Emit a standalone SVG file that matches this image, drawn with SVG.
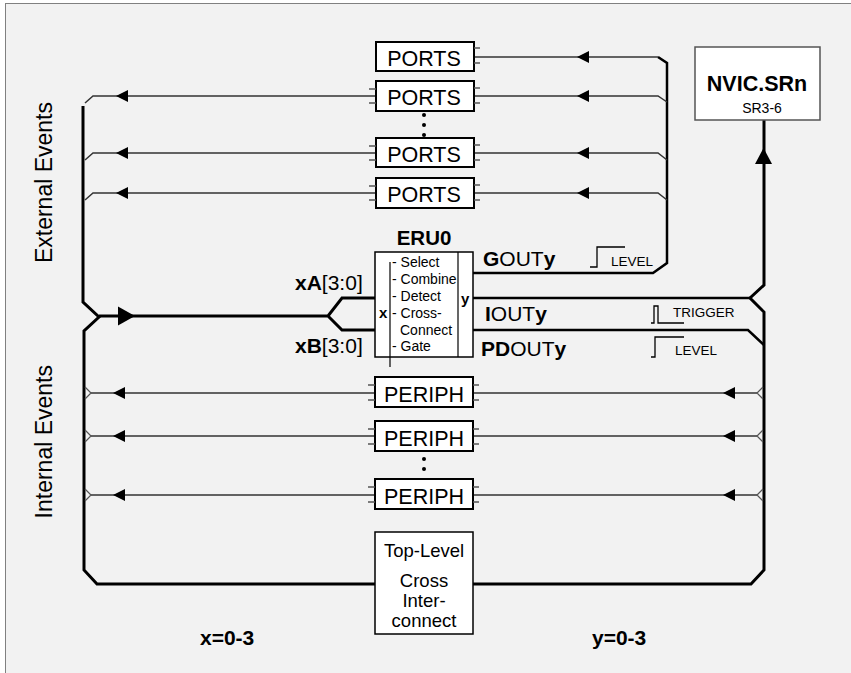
<svg xmlns="http://www.w3.org/2000/svg" width="851" height="673" viewBox="0 0 851 673">
<defs>
<style>
text{font-family:"Liberation Sans",Arial,sans-serif;fill:#000}
.thin{stroke:#333;stroke-width:1.5;fill:none}
.bus{stroke:#000;stroke-width:3;fill:none;stroke-linejoin:miter}
.med{stroke:#000;stroke-width:2.5;fill:none}
.box{fill:#fff;stroke:#000;stroke-width:2}
.tick{stroke:#555;stroke-width:1.3;fill:none}
.chev{stroke:#555;stroke-width:1.2;fill:none}
.sym{stroke:#000;stroke-width:1.3;fill:none}
.lbl{font-size:21.5px}
.b{font-weight:bold}
</style>
<path id="ah" d="M0,0 L12,-6 L12,6 Z" fill="#000"/>
</defs>
<rect x="0" y="0" width="851" height="673" fill="#fff"/>
<rect x="5.5" y="3.5" width="870" height="700" fill="#f2f2f2" stroke="#808080" stroke-width="1"/>

<g id="connectors">
  <path class="bus" d="M83,106 V302 L99,317 L84,331 V570 L97,584 H375"/>
  <path class="bus" d="M99,316 H328 L342,298 H375 M328,316 L342,330 H375"/>
  <polygon points="135,316 118,306.5 118,325.5" fill="#000"/>
  <path class="bus" d="M764,120 V285 L750,298 L764,312 V570 L751,584 H473"/>
  <polygon points="763.5,148 755,164 772,164" fill="#000"/>
  <path class="med" d="M473,273 H653 L667,263 V63 L658,57"/>
  <path class="med" d="M473,298 H750"/>
  <path class="med" d="M473,330 H748 L764,345"/>
  <path class="thin" d="M474,57 H658"/>
  <path class="thin" d="M474,96 H658 L667,102"/>
  <path class="thin" d="M474,153 H658 L667,160"/>
  <path class="thin" d="M474,193 H658 L667,200"/>
  <use href="#ah" x="577" y="57"/>
  <use href="#ah" x="577" y="96"/>
  <use href="#ah" x="577" y="153"/>
  <use href="#ah" x="577" y="193"/>
  <path class="thin" d="M376,96 H93 L85,103"/>
  <path class="thin" d="M376,153 H93 L85,160"/>
  <path class="thin" d="M376,193 H93 L85,200"/>
  <use href="#ah" x="116" y="96"/>
  <use href="#ah" x="116" y="153"/>
  <use href="#ah" x="116" y="193"/>
  <path class="thin" d="M91,393 H375 M473,393 H757"/>
  <path class="thin" d="M91,436 H375 M473,436 H757"/>
  <path class="thin" d="M91,495 H375 M473,495 H757"/>
  <path class="chev" d="M85,387 L91,393 L85,399 M85,430 L91,436 L85,442 M85,489 L91,495 L85,501"/>
  <path class="chev" d="M763,387 L757,393 L763,399 M763,430 L757,436 L763,442 M763,489 L757,495 L763,501"/>
  <use href="#ah" x="113" y="393"/>
  <use href="#ah" x="113" y="436"/>
  <use href="#ah" x="113" y="495"/>
  <use href="#ah" x="723" y="393"/>
  <use href="#ah" x="723" y="436"/>
  <use href="#ah" x="723" y="495"/>
</g>

<g id="ports1">
  <rect class="box" x="376" y="42" width="98" height="29"/>
  <path class="tick" d="M474,48 H480 M474,63 H480"/>
  <text class="lbl" x="424" y="66" text-anchor="middle">PORTS</text>
</g>
<g id="ports2">
  <rect class="box" x="376" y="81" width="98" height="30"/>
  <path class="tick" d="M369,89 H376 M369,103 H376 M474,88 H480 M474,103 H480"/>
  <text class="lbl" x="424" y="105" text-anchor="middle">PORTS</text>
</g>
<g id="ports-dots" fill="#000">
  <circle cx="424" cy="115" r="2"/><circle cx="424" cy="125" r="2"/><circle cx="424" cy="135" r="2"/>
</g>
<g id="ports3">
  <rect class="box" x="376" y="138" width="98" height="29"/>
  <path class="tick" d="M369,146 H376 M369,160 H376 M474,145 H480 M474,160 H480"/>
  <text class="lbl" x="424" y="162" text-anchor="middle">PORTS</text>
</g>
<g id="ports4">
  <rect class="box" x="376" y="178" width="98" height="30"/>
  <path class="tick" d="M369,186 H376 M369,200 H376 M474,185 H480 M474,200 H480"/>
  <text class="lbl" x="424" y="202" text-anchor="middle">PORTS</text>
</g>

<g id="nvic">
  <rect x="695" y="47" width="125" height="73" fill="#fff" stroke="#555" stroke-width="1.5"/>
  <text x="757" y="91" text-anchor="middle" font-size="21.5" class="b">NVIC.SRn</text>
  <text x="762" y="113" text-anchor="middle" font-size="14">SR3-6</text>
</g>

<g id="eru0">
  <text x="424" y="245" text-anchor="middle" font-size="20.5" class="b">ERU0</text>
  <rect x="375" y="252" width="98" height="105" fill="#fff" stroke="#000" stroke-width="1.5"/>
  <line x1="458" y1="252" x2="458" y2="357" stroke="#000" stroke-width="1.2"/>
  <line x1="390" y1="262" x2="390" y2="367" stroke="#000" stroke-width="1.2"/>
  <g font-size="14">
    <text x="392" y="267">- Select</text>
    <text x="392" y="284">- Combine</text>
    <text x="392" y="301">- Detect</text>
    <text x="392" y="318">- Cross-</text>
    <text x="400" y="335">Connect</text>
    <text x="392" y="351">- Gate</text>
  </g>
  <text x="379" y="318" font-size="15" class="b">x</text>
  <text x="461" y="304" font-size="15" class="b">y</text>
</g>

<g id="inputs">
  <text x="295" y="290" font-size="21"><tspan class="b">xA</tspan>[3:0]</text>
  <text x="295" y="353" font-size="21"><tspan class="b">xB</tspan>[3:0]</text>
</g>

<g id="outputs">
  <text x="483" y="266" font-size="21"><tspan class="b">G</tspan>OUT<tspan class="b">y</tspan></text>
  <path class="sym" d="M590,267 H597 V247 H625"/>
  <text x="611" y="266" font-size="13.5">LEVEL</text>
  <text x="485" y="321" font-size="21"><tspan class="b">I</tspan>OUT<tspan class="b">y</tspan></text>
  <path class="sym" d="M651,323 H654 V306 H658 V323 H684"/>
  <text x="673" y="317" font-size="13.5">TRIGGER</text>
  <text x="481" y="356" font-size="21"><tspan class="b">PD</tspan>OUT<tspan class="b">y</tspan></text>
  <path class="sym" d="M651,357 H655 V337 H684"/>
  <text x="675" y="355" font-size="13.5">LEVEL</text>
</g>

<g id="periph1">
  <rect class="box" x="375" y="377" width="98" height="30"/>
  <path class="tick" d="M368,385 H375 M368,400 H375 M473,385 H479 M473,400 H479"/>
  <text class="lbl" x="424" y="402" text-anchor="middle">PERIPH</text>
</g>
<g id="periph2">
  <rect class="box" x="375" y="421" width="98" height="30"/>
  <path class="tick" d="M368,429 H375 M368,444 H375 M473,429 H479 M473,444 H479"/>
  <text class="lbl" x="424" y="446" text-anchor="middle">PERIPH</text>
</g>
<g id="periph-dots" fill="#000">
  <circle cx="424" cy="459" r="2"/><circle cx="424" cy="469" r="2"/>
</g>
<g id="periph3">
  <rect class="box" x="375" y="479" width="98" height="30"/>
  <path class="tick" d="M368,487 H375 M368,502 H375 M473,487 H479 M473,502 H479"/>
  <text class="lbl" x="424" y="504" text-anchor="middle">PERIPH</text>
</g>

<g id="toplevel">
  <rect x="375" y="532" width="98" height="102" fill="#fff" stroke="#000" stroke-width="1.5"/>
  <g font-size="18.5" text-anchor="middle">
    <text x="424" y="557">Top-Level</text>
    <text x="424" y="587">Cross</text>
    <text x="424" y="607">Inter-</text>
    <text x="424" y="627">connect</text>
  </g>
</g>

<g id="side-labels" font-size="23">
  <text transform="translate(52,102) rotate(-90)" text-anchor="end">External Events</text>
  <text transform="translate(52,365) rotate(-90)" text-anchor="end">Internal Events</text>
</g>
<g id="range-labels" font-size="21">
  <text x="200" y="645" class="b">x=0-3</text>
  <text x="592" y="645" class="b">y=0-3</text>
</g>
</svg>
